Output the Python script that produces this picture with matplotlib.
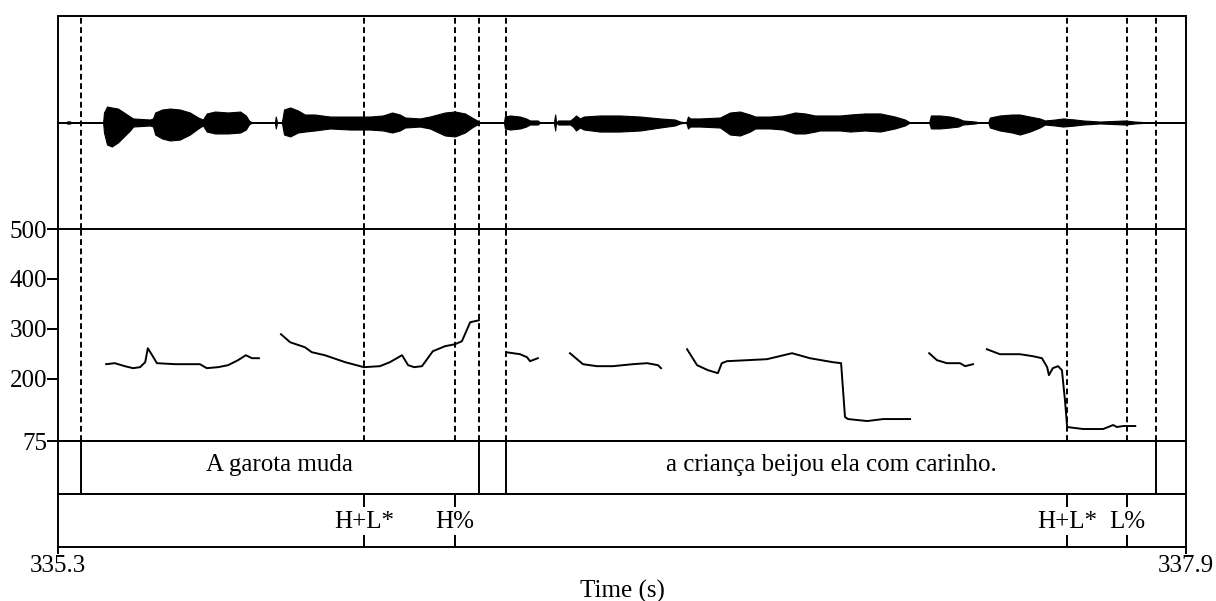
import matplotlib
matplotlib.use("Agg")
import matplotlib.pyplot as plt
import matplotlib.transforms as mtransforms
import numpy as np

# ---------------- data ----------------
t_start, t_end = 335.3, 337.9

# waveform amplitude envelope (normalised, upper / lower)
wave_t = [335.300, 335.318, 335.321, 335.328, 335.330, 335.404, 335.406, 335.413, 335.424, 335.438,
          335.452, 335.466, 335.473, 335.512, 335.519, 335.524, 335.540, 335.558, 335.581, 335.604,
          335.623, 335.634, 335.643, 335.662, 335.692, 335.720, 335.733, 335.740, 335.747, 335.800,
          335.802, 335.805, 335.816, 335.821, 335.835, 335.853, 335.869, 335.892, 335.927, 335.973,
          336.019, 336.049, 336.070, 336.088, 336.100, 336.134, 336.157, 336.192, 336.215, 336.238,
          336.254, 336.266, 336.270, 336.328, 336.330, 336.342, 336.365, 336.379, 336.388, 336.406,
          336.411, 336.443, 336.446, 336.448, 336.453, 336.480, 336.487, 336.494, 336.503, 336.512,
          336.549, 336.595, 336.642, 336.688, 336.722, 336.734, 336.748, 336.752, 336.757, 336.780,
          336.826, 336.849, 336.872, 336.895, 336.907, 336.941, 336.971, 336.999, 337.022, 337.045,
          337.056, 337.103, 337.126, 337.160, 337.195, 337.229, 337.252, 337.264, 337.308, 337.312,
          337.333, 337.356, 337.375, 337.386, 337.414, 337.425, 337.444, 337.448, 337.471, 337.499,
          337.517, 337.540, 337.563, 337.575, 337.598, 337.617, 337.644, 337.663, 337.702, 337.759,
          337.782, 337.817, 337.900]
wave_up = [0, 0, .01, .01, 0, 0, .094, .150, .141, .131,
           .094, .056, .038, .028, .038, .094, .122, .131, .122, .094,
           .047, .028, .085, .103, .094, .103, .066, .019, 0, 0,
           .056, 0, 0, .122, .141, .113, .075, .075, .056, .056,
           .056, .066, .094, .075, .047, .038, .056, .094, .103, .085,
           .047, .019, 0, 0, .056, .066, .056, .038, .019, .019,
           0, 0, .075, 0, .019, .019, .038, .066, .038, .056,
           .066, .066, .056, .038, .028, .009, 0, .056, .038, .038,
           .047, .094, .103, .075, .056, .056, .066, .094, .085, .066,
           .066, .066, .075, .085, .085, .056, .028, 0, 0, .066,
           .066, .056, .038, .019, .009, 0, 0, .047, .066, .075,
           .075, .056, .038, .019, .028, .038, .028, .019, .009, .019,
           .009, 0, 0]
wave_dn = [0, 0, .01, .01, 0, 0, .094, .207, .225, .188,
           .131, .075, .038, .028, .038, .113, .150, .169, .160, .113,
           .056, .028, .085, .103, .103, .094, .066, .019, 0, 0,
           .056, 0, 0, .113, .131, .094, .085, .075, .056, .066,
           .066, .075, .094, .075, .047, .038, .056, .122, .131, .094,
           .047, .019, 0, 0, .056, .066, .056, .038, .019, .019,
           0, 0, .075, 0, .019, .019, .038, .075, .047, .066,
           .085, .085, .075, .047, .028, .009, 0, .056, .038, .038,
           .047, .113, .122, .085, .056, .056, .066, .103, .103, .085,
           .075, .075, .085, .075, .085, .056, .028, 0, 0, .056,
           .056, .047, .038, .019, .009, 0, 0, .047, .075, .094,
           .113, .085, .047, .019, .028, .038, .028, .019, .009, .019,
           .009, 0, 0]

# pitch contour segments (time s, F0 Hz)
pitch_t = [
    [335.411, 335.431, 335.454, 335.473, 335.489, 335.501, 335.507, 335.517, 335.528, 335.570,
     335.627, 335.643, 335.669, 335.692, 335.715, 335.733, 335.747, 335.763],
    [335.814, 335.835, 335.869, 335.885, 335.915, 335.962, 336.005, 336.042, 336.065, 336.093,
     336.107, 336.121, 336.139, 336.164, 336.192, 336.215, 336.231, 336.240, 336.250, 336.270],
    [336.333, 336.365, 336.381, 336.388, 336.400, 336.406],
    [336.480, 336.510, 336.542, 336.579, 336.625, 336.658, 336.683, 336.690],
    [336.750, 336.773, 336.798, 336.821, 336.830, 336.842, 336.934, 336.992, 337.033, 337.086,
     337.105, 337.114, 337.121, 337.165, 337.202, 337.264],
    [337.308, 337.326, 337.349, 337.379, 337.391, 337.409],
    [337.441, 337.471, 337.517, 337.547, 337.568, 337.580, 337.584, 337.593, 337.605, 337.614,
     337.621, 337.626, 337.663, 337.709, 337.732, 337.741, 337.755, 337.783],
]
pitch_hz = [
    [229, 231, 225, 221, 223, 233, 261, 247, 231, 229,
     229, 221, 223, 227, 237, 247, 241, 241],
    [289, 273, 263, 253, 247, 233, 223, 225, 233, 247,
     227, 223, 225, 255, 265, 269, 275, 293, 313, 317],
    [253, 249, 243, 235, 239, 241],
    [251, 229, 225, 225, 229, 231, 227, 221],
    [259, 227, 217, 211, 231, 235, 239, 251, 241, 233,
     231, 123, 119, 115, 119, 119],
    [251, 237, 231, 231, 225, 229],
    [259, 249, 249, 245, 241, 223, 207, 221, 225, 217,
     157, 103, 99, 99, 107, 103, 105, 105],
]
pitch_ticks = [500, 400, 300, 200, 75]
f0_min, f0_max = 75, 500

# TextGrid
tier1_bounds = [335.353, 336.270, 336.333, 337.831]
tier1_intervals = [(335.353, 336.270, "A garota muda"),
                   (336.333, 337.831, "a criança beijou ela com carinho.")]
tier2_times = [336.005, 336.215, 337.626, 337.764]
tier2_labels = ["H+L*", "H%", "H+L*", "L%"]

# ---------------- layout ----------------
W, H = 1216, 601
fig = plt.figure(figsize=(W / 100, H / 100), dpi=100)
plt.rcParams['font.family'] = ['Liberation Serif', 'DejaVu Serif']
FS = 18
LW = 1.4

def rect(top, bottom, left=58, right=1186):
    return [left / W, 1 - bottom / H, (right - left) / W, (bottom - top) / H]

ax_w = fig.add_axes(rect(16, 229))
ax_p = fig.add_axes(rect(229, 441), sharex=ax_w)
ax_1 = fig.add_axes(rect(441, 494), sharex=ax_w)
ax_2 = fig.add_axes(rect(494, 547), sharex=ax_w)

for ax in (ax_w, ax_p, ax_1, ax_2):
    ax.set_xlim(t_start, t_end)
    for s in ax.spines.values():
        s.set_linewidth(LW)
    ax.tick_params(axis='x', which='both', bottom=False, labelbottom=False)

# waveform
ax_w.fill_between(wave_t, wave_up, [-d for d in wave_dn], color='black', lw=0.8, edgecolor='black')
ax_w.axhline(0, color='black', lw=1.1)
ax_w.set_ylim(-1, 1)
ax_w.set_yticks([])
ax_w.spines['bottom'].set_visible(False)

# pitch
for tt, hh in zip(pitch_t, pitch_hz):
    ax_p.plot(tt, hh, color='black', lw=1.4, solid_joinstyle='round')
ax_p.set_ylim(f0_min, f0_max)
ax_p.set_yticks(pitch_ticks)
ax_p.set_yticklabels([str(v) for v in pitch_ticks], fontsize=FS)
ax_p.tick_params(axis='y', direction='out', length=8, width=LW, pad=0)

# dashed boundary lines across waveform + pitch
dash = (0, (3.0, 1.8))
for t in tier1_bounds + tier2_times:
    ax_w.axvline(t, color='black', lw=1.4, ls=dash)
    ax_p.axvline(t, color='black', lw=1.4, ls=dash)

# tier 1
ax_1.set_ylim(0, 1)
ax_1.set_yticks([])
for t in tier1_bounds:
    ax_1.axvline(t, color='black', lw=LW)
for a, b, lab in tier1_intervals:
    ax_1.text((a + b) / 2, 0.55, lab, ha='center', va='center', fontsize=FS)

# tier 2
ax_2.set_ylim(0, 1)
ax_2.set_yticks([])
for t, lab in zip(tier2_times, tier2_labels):
    ax_2.vlines(t, 0.75, 1.0, color='black', lw=LW)
    ax_2.vlines(t, 0.0, 0.23, color='black', lw=LW)
    ax_2.text(t, 0.47, lab, ha='center', va='center', fontsize=FS)

# time axis end ticks and labels
ax_2.set_xticks([t_start, t_end])
ax_2.tick_params(axis='x', bottom=True, direction='out', length=5, width=LW, labelbottom=False)
trans = mtransforms.blended_transform_factory(ax_2.transData, fig.transFigure)
ax_2.text(t_start, 1 - 566 / H, "%.1f" % t_start, transform=trans, ha='center', va='center', fontsize=FS)
ax_2.text(t_end, 1 - 566 / H, "%.1f" % t_end, transform=trans, ha='center', va='center', fontsize=FS)
fig.text((58 + 1186) / 2 / W, 1 - 591 / H, "Time (s)", ha='center', va='center', fontsize=FS)

fig.savefig("out.png", dpi=100, facecolor='white')
